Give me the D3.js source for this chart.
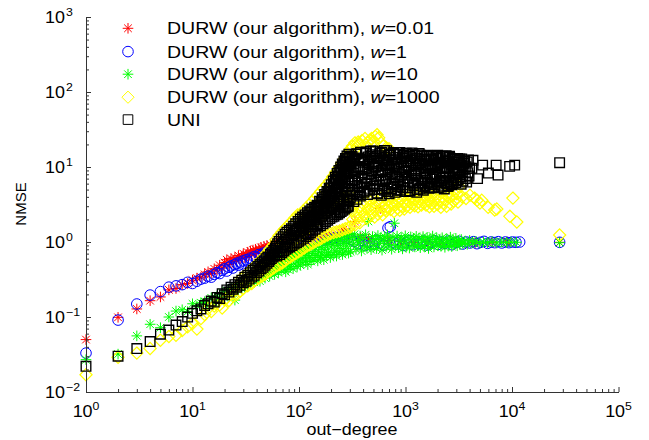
<!DOCTYPE html>
<html>
<head>
<meta charset="utf-8">
<script src="https://cdn.jsdelivr.net/npm/d3@7"></script>
<style>
  body { margin: 0; background: #fff; }
  svg { display: block; }
  text { font-family: "Liberation Sans", Arial, Helvetica, sans-serif; fill: #000; }
</style>
</head>
<body>
<div id="chart"></div>
<script>
// ---- data: [out-degree, NMSE] ----
const redPts = [
  [1,.050],[2,.099],[3,.128],[4,.165],[5,.185],[6,.23],[7,.24],[8,.27],[9,.28],[10,.31],[11,.33],[12,.34],
  [13,.37],[14,.40],[15,.38],[16,.44],[17,.42],[18,.49],[19,.45],[20,.53],[21,.58],[22,.50],[23,.60],[24,.55],
  [25,.62],[26,.57],[27,.66],[28,.60],[29,.64],[30,.70],[31,.62],[32,.68],[33,.73],[34,.66],[35,.76],[36,.70],
  [37,.78],[38,.71],[39,.80],[40,.74],[42,.82],[43,.76],[44,.85],[46,.79],[47,.87],[49,.82],[50,.90],[52,.84],
  [54,.92],[56,.88],[58,.95],[60,.90],[63,.98],[66,.93],[70,1.0],[74,.96],
  [80,1.02],[90,1.08],[100,1.05],[110,1.12],[125,1.1],[140,1.18],[160,1.15],[180,1.24],[203,1.24],[230,1.2],
  [260,1.45],[270,1.37],[300,1.3],[335,1.87],[380,1.15],[450,1.1],[580,2.8],[700,1.05],[900,1.02],
  [1200,.98],[1600,1.0],[2200,.97],[3000,1.0],[4500,.98],[6500,.99],[9000,1.0],[28000,.99]
];

const bluePts = [
  [1,.033],[2,.091],[3,.149],[4,.196],[5,.218],[6,.25],[7,.26],[8,.27],[9,.29],[10,.28],[11,.30],[12,.32],
  [13,.33],[14,.35],[15,.34],[16,.37],[17,.39],[18,.38],[19,.42],[20,.44],[21,.41],[22,.46],[23,.48],[24,.45],
  [25,.50],[26,.52],[27,.49],[28,.54],[29,.51],[30,.56],[32,.58],[33,.55],[35,.61],[36,.59],[38,.64],[40,.62],
  [42,.68],[44,.66],[46,.71],[48,.69],[50,.74],[53,.72],[56,.78],[59,.76],[62,.81],[66,.79],[70,.84],
  [75,.86],[82,.9],[90,.88],[98,.95],[106,.92],[115,1.0],[124,.97],[135,1.05],[145,1.02],[158,1.1],[170,1.06],
  [185,1.12],[200,1.08],[220,1.15],[240,1.1],[262,1.17],[285,1.12],[310,1.08],
  [330,1.02],[360,.95],[390,1.05],[420,.9],[455,1.0],[490,.93],[530,1.06],[570,.97],[620,.91],[685,1.54],
  [720,1.6],[760,1.0],[820,.94],[880,1.04],[950,.9],[1020,.98],[1100,1.05],[1180,.92],[1270,1.0],[1370,.95],
  [1480,1.03],[1600,.91],[1730,.99],[1870,1.04],[2020,.93],[2180,1.0],[2350,.96],[2540,1.03],[2740,.92],
  [2960,.99],[3200,1.02],[3450,.94],[3720,1.0],[4020,.97],[4340,1.01],[4690,.95],[5060,.99],[5460,1.02],
  [5900,.96],[6370,1.0],[6880,.98],[7430,1.01],[8020,.97],[8660,1.0],[9350,.98],[10100,1.0],[10900,.99],
  [11800,1.0],[28000,.99]
];

const greenPts = [
  [1,.027],[2,.032],[3,.056],[4,.080],[5,.072],[6,.10],[7,.12],[8,.125],[9,.118],[10,.15],[11,.14],[12,.155],
  [13,.16],[14,.14],[15,.18],[16,.155],[17,.19],[18,.165],[19,.21],[20,.18],[21,.225],[22,.195],[23,.24],
  [24,.21],[25,.168],[26,.25],[27,.225],[28,.28],[29,.24],[30,.3],[31,.255],[32,.32],[33,.27],[34,.34],
  [35,.28],[36,.31],[37,.36],[38,.29],[39,.38],[40,.32],[41,.36],[42,.41],[43,.3],[44,.43],[45,.35],[46,.4],
  [47,.45],[48,.33],[49,.47],[50,.38],[51,.43],[52,.5],[53,.35],[54,.46],[55,.52],[56,.4],[57,.48],[58,.54],
  [59,.37],[60,.5],[62,.44],[63,.57],[64,.39],[66,.52],[67,.6],[68,.42],[70,.55],[71,.62],[72,.45],[74,.58],
  [75,.4],[76,.64],[78,.5],[79,.43],[80,.61],[82,.66],[83,.47],[85,.56],[86,.69],[88,.44],[89,.62],[91,.72],
  [92,.51],[94,.65],[96,.47],[97,.74],[99,.58],[101,.68],[103,.49],[105,.77],[107,.6],[109,.53],[111,.72],
  [113,.8],[115,.56],[117,.66],[119,.83],[121,.5],[123,.75],[126,.62],[128,.86],[130,.55],[133,.7],[136,.9],
  [138,.58],[141,.79],[144,.66],[147,.93],[150,.56],[153,.74],[156,.96],[159,.62],[162,.85],[165,.69],
  [168,1.0],[171,.58],[175,.8],[178,1.03],[181,.66],[185,.92],[189,.72],[193,1.06],[197,.62],[201,.86],
  [205,1.1],[209,.68],[213,.96],[217,.76],[221,1.12],[225,.65],[229,.9],[234,1.16],[238,.72],[242,1.02],
  [247,.82],[252,1.2],[256,.68],[261,.95],[266,1.22],[271,.76],[276,1.08],[281,.88],[287,1.26],[292,.71],
  [297,1.0],[300,1.3],
  [305,.74],[314,1.15],[324,.92],[333,1.27],[343,.8],[354,1.05],[364,.97],[375,1.2],[386,.76],[398,1.1],
  [410,.88],[422,1.25],[435,.83],[448,1.88],
  [461,1.0],[475,.79],[490,1.18],[504,.9],[519,1.08],[535,.82],[551,1.22],[568,.95],[585,1.12],[602,.78],
  [620,1.02],[639,1.17],[658,.86],[678,1.24],[698,.93],[719,1.06],[741,.8],
  [763,1.15],[786,1.78],[809,.9],[834,1.2],[859,.84],[884,1.03],[911,1.14],[938,.81],[966,.97],[995,1.21],
  [1025,.88],[1056,1.08],[1088,.83],[1120,1.17],[1154,.94],[1188,1.1],[1224,.86],[1261,1.19],
  [1298,.9],[1337,1.12],[1377,.84],[1419,1.04],[1461,1.18],[1505,.87],[1550,.98],[1597,1.15],[1645,.82],
  [1694,1.08],[1745,.93],[1797,1.2],[1851,.86],[1907,1.01],[1964,1.13],[2023,.89],[2083,1.06],
  [2146,.88],[2210,1.14],[2276,.95],[2345,.85],[2415,1.1],[2487,1.0],[2562,.9],[2639,1.16],[2718,.87],
  [2800,1.05],[2884,.94],[2970,1.12],[3059,.89],[3151,1.02],[3245,.92],[3343,1.08],[3443,.96],
  [3600,1.0],[3800,.93],[4000,1.05],[4300,.97],[4600,1.02],[5000,.96],[5400,1.0],[5900,.98],[6500,1.01],
  [7200,.97],[8000,1.0],[8900,.98],[9800,1.0],[11000,.99],[28000,.98]
];

const yellowPts = [
  [1,.017],[2,.029],[3,.033],[4,.038],[5,.049],[6,.055],[7,.057],[8,.066],[9,.074],[10,.082],
  [11,.069],[12,.095],[13,.108],[14,.13],[15,.118],[16,.14],[17,.155],[18,.145],[19,.132],[20,.17],
  [21,.18],[22,.165],[23,.2],[24,.19],[25,.23],[26,.2],[27,.26],[28,.22],[29,.33],[30,.24],
  [31,.28],[32,.37],[33,.26],[34,.31],[35,.42],[36,.28],[37,.35],[38,.47],[39,.31],[40,.38],
  [41,.52],[42,.33],[43,.42],[44,.58],[45,.35],[46,.45],[47,.64],[48,.37],[49,.49],[50,.72],
  [51,.4],[52,.53],[53,.8],[54,.42],[56,.57],[57,.9],[58,.45],[60,.62],[61,1.08],[62,.48],
  [64,.67],[65,1.22],[66,.5],[68,.72],[69,1.35],[70,.53],[72,.78],[73,1.48],[74,.56],[76,.84],
  [77,1.6],[78,.6],[80,.9],[82,1.75],[83,.63],[85,.97],[87,1.92],[88,.67],[90,1.05],[92,2.1],
  [93,.7],[95,1.12],[97,2.3],[99,.74],[101,1.2],[103,2.35],[105,.78],[107,1.3],[110,2.6],[112,.83],
  [114,1.4],[117,2.85],[119,.88],[121,1.5],[124,3.1],[126,.92],[129,1.6],[132,3.4],[135,.97],[138,1.75],
  [141,3.8],[144,1.02],[147,1.9],[150,4.2],[153,1.07],[157,2.05],[160,4.7],[163,1.12],[167,2.2],[170,5.2],
  [174,1.18],[178,2.4],[182,5.8],[186,1.24],[190,2.6],[194,6.5],[198,1.3],[203,2.8],[207,7.4],[212,1.34],
  [216,3.0],[221,8.5],[226,1.37],[231,3.3],[236,9.8],[241,1.4],[246,3.5],[251,11.2],[256,1.45],[262,3.8],
  [267,12.8],[272,1.5],[278,4.0],[284,14.8],[290,1.55],[296,4.3],[300,16.8],
  [305,1.6],[313,2.6],[320,2.0],[328,3.0],[337,1.7],[345,2.4],[354,2.1],[363,2.9],[372,1.8],[381,2.7],
  [391,2.2],[400,3.2],[410,2.3],[421,3.4],[431,2.05],[442,2.8],[453,3.6],[465,2.2],[476,3.1],[488,2.5],
  [500,3.8],[513,2.15],[526,2.9],[539,3.5],[552,2.35],[566,3.2],[580,2.6],[595,3.9],[610,2.3],[625,3.0],
  [640,2.7],[656,2.6],[673,3.6],[690,2.9],[707,4.1],[725,2.7],[743,3.3],[761,3.9],[780,2.55],[800,3.1],
  [820,4.2],[840,2.8],[861,3.5],[883,2.65],[905,3.8],[928,3.0],[951,4.0],[975,2.75],[999,3.4],
  [1024,3.0],[1050,4.3],[1076,3.5],[1103,2.9],[1130,4.0],[1159,3.2],[1188,4.5],[1218,3.05],[1248,3.7],
  [1279,4.2],[1311,2.95],[1344,3.4],[1378,4.4],[1412,3.1],[1447,3.9],[1484,3.3],[1521,4.1],
  [1559,3.1],[1598,4.6],[1638,3.5],[1679,2.95],[1721,4.2],[1764,3.3],[1808,4.8],[1853,3.0],[1899,3.8],
  [1947,4.4],[1995,3.15],[2045,3.6],[2096,4.7],[2149,2.9],[2202,4.0],
  [2257,3.3],[2314,4.9],[2372,3.6],[2431,3.0],[2492,4.5],[2554,3.9],[2618,5.3],[2683,3.2],[2750,4.1],
  [2819,3.5],[2890,5.0],[2962,3.7],[3036,4.4],[3112,3.4],[3190,5.5],
  [305,17.5],[318,19],[335,21],[350,18.5],[360,21.5],[372,20],[390,22.5],[417,24],[440,21],[465,23],
  [480,24],[500,22],[520,25.5],[540,27],[560,24.5],[590,21],[620,19],[660,18],[700,17.5],
  [3400,4.0],[3700,3.8],[4030,4.2],[4450,3.85],[4700,3.6],[5000,3.3],[5200,3.6],[5970,2.9],[6880,2.67],
  [7200,2.75],[9560,2.2],[10200,3.85],[11100,1.85],[28000,1.24]
];

const uniPts = [
  [1,.022],[2,.030],[3,.038],[4,.047],[5,.059],[6,.067],[7,.078],[8,.087],[9,.100],[10,.112],
  [11,.121],[12,.128],[13,.142],[14,.150],[15,.163],[16,.158],[17,.182],[18,.176],[19,.205],[20,.198],
  [21,.23],[22,.215],[23,.25],[24,.235],[25,.27],[26,.25],[27,.29],[28,.265],[29,.31],[30,.285],
  [31,.34],[32,.30],[33,.36],[34,.32],[35,.39],[36,.34],[37,.42],[38,.36],[39,.44],[40,.39],
  [41,.47],[42,.41],[43,.50],[44,.44],[45,.53],[46,.46],[47,.56],[48,.49],[49,.60],[50,.52],
  [51,.63],[52,.55],[53,.58],[54,.68],[55,.60],[56,.72],[57,.63],[58,.77],[59,.66],[60,.82],
  [61,.88],[62,.65],[63,.95],[64,.74],[65,1.02],[66,.68],[67,.84],[68,1.1],[69,.72],[70,.93],
  [71,1.18],[72,.76],[73,1.0],[74,1.27],[75,.8],[76,1.08],[77,1.35],[78,.83],[80,1.15],[81,1.42],
  [82,.86],[84,1.22],[85,1.5],[86,.9],[88,1.3],[89,1.62],[90,.94],[92,1.38],[93,1.75],[95,.98],
  [96,1.46],[98,1.88],[99,1.02],[101,1.55],[103,2.02],[104,1.06],[106,1.65],[108,2.15],[110,1.12],[112,1.75],
  [114,2.3],[116,1.18],[118,1.85],[120,2.45],[122,1.25],[124,1.98],[126,2.6],[128,1.32],[130,2.1],[132,2.75],
  [134,1.4],[137,2.22],[140,2.9],[142,1.48],[145,2.35],[148,3.1],[150,1.58],
  [153,2.5],[156,3.5],[159,1.65],[162,2.8],[165,3.9],[168,1.75],[171,3.0],[174,4.3],[177,1.85],[180,3.3],
  [183,4.7],[186,1.95],[189,3.6],[192,5.2],[195,2.05],[198,4.0],[200,3.0],[201,5.8],[204,2.15],[207,4.4],
  [210,6.5],[213,2.2],[216,4.9],[218,3.3],[219,7.3],[222,2.3],[225,5.4],[228,8.2],[231,2.35],[232,3.5],
  [234,6.0],[237,9.0],[240,2.45],[243,6.6],[245,4.0],[246,10.0],[249,2.55],[250,5.2],[252,7.3],[255,11.0],
  [258,2.65],[261,8.0],[262,3.6],[264,12.0],[267,2.75],[268,6.0],[270,8.8],[273,13.0],[276,2.85],[279,9.6],
  [281,4.2],[282,14.0],[285,2.95],[286,7.0],[288,10.5],[291,3.0],[294,14.8],[297,6.2],[300,11.5],
  [100,1.4],[102,1.8],[105,1.2],[107,1.55],[109,1.9],[111,1.35],[113,2.1],[115,1.6],[117,1.3],[119,2.0],
  [121,1.7],[123,2.3],[125,1.45],[127,1.9],[129,2.5],[131,1.6],[133,2.2],[136,1.75],[138,2.6],[141,2.0],
  [144,2.8],[147,1.7],[149,2.45],[152,3.0],[155,2.0],[158,2.6],[161,3.4],[164,2.2],[167,2.9],[170,3.7],
  [173,2.4],[176,3.2],[179,4.1],[182,2.6],[185,3.5],[188,4.6],[191,2.8],[194,3.9],[197,5.2],[199,2.5],
  [202,4.2],[206,3.1],[209,5.3],[212,3.6],[215,6.0],[217,2.7],[221,4.6],[224,6.8],[227,3.2],[230,5.3],
  [233,7.6],[236,3.8],[239,5.8],[242,8.5],[244,3.0],[248,7.0],[251,9.3],[254,4.5],[257,6.4],[260,10.5],
  [263,3.2],[266,7.5],[269,11.5],[272,5.0],[275,8.5],[278,12.5],[280,3.5],[284,9.0],[287,13.0],[290,5.5],
  [293,10.0],[296,3.6],[299,13.5],
  [303,3.87],[307,10.9],[311,6.1],[315,13.9],[319,4.9],[323,8.2],[327,3.46],[332,12.2],[336,6.8],[340,9.7],
  [345,4.25],[349,15.0],[354,5.6],[358,7.6],[363,13.2],[368,4.5],[372,9.1],
  [377,4.1],[382,12.6],[387,7.5],[392,6.2],[397,11.6],[402,9.2],[408,4.75],[413,12.2],[418,7.2],[424,15.2],
  [429,5.9],[435,9.5],[440,4.3],[446,13.6],[452,8.0],[458,10.9],[464,5.2],[470,16.3],[476,6.6],[482,8.8],
  [488,14.6],[495,5.5],[501,10.3],[508,13.1],[514,5.0],[521,9.9],[528,16.0],[535,6.9],[542,4.5],[549,11.2],
  [556,8.4],[563,14.1],[570,5.7],[578,12.9],[585,7.8],[593,4.2],[601,15.6],[608,9.0],[616,6.4],[624,11.9],
  [633,4.9],[641,13.4],[649,7.0],[658,10.6],[666,16.5],[675,5.3],[684,8.6],[693,12.3],[702,4.4],[711,9.7],
  [720,14.9],[730,6.0],
  [739,5.1],[749,12.4],[759,8.3],[769,15.2],[779,6.0],[789,10.1],[799,4.6],[810,13.5],[820,7.4],[831,11.0],
  [842,5.5],[853,14.6],[864,6.8],[875,9.2],[887,15.6],[898,4.9],[910,11.7],[922,7.9],[934,13.0],[946,5.8],
  [959,9.8],[971,14.2],[984,6.4],[997,4.7],[1010,12.0],[1023,8.7],[1036,15.0],[1050,5.3],[1064,10.5],[1077,7.1],
  [1091,13.8],[1106,4.8],[1120,11.4],[1135,9.0],[1150,15.4],[1165,6.2],[1180,12.8],[1195,5.6],[1211,8.1],[1227,14.4],
  [1243,7.6],[1259,10.8],[1275,4.6],[1292,13.2],[1309,6.6],[1326,9.5],[1343,15.1],[1361,5.2],[1378,11.9],[1396,8.5],
  [1415,14.0],[1433,6.1],[1452,10.2],[1471,4.9],[1490,12.6],[1509,7.3],
  [1529,5.6],[1549,12.1],[1569,8.0],[1590,14.3],[1610,6.3],[1631,10.4],[1653,5.2],[1674,13.2],[1696,7.4],[1718,11.1],
  [1741,5.9],[1763,14.0],[1786,6.9],[1810,9.3],[1833,12.7],[1857,5.4],[1881,10.9],[1906,7.8],[1931,13.6],[1956,6.1],
  [1981,9.7],[2007,14.4],[2033,5.3],[2060,11.6],[2087,8.4],[2114,12.9],[2142,6.6],[2170,10.0],[2198,5.7],[2226,13.9],
  [2256,7.1],[2285,11.3],[2315,5.1],[2345,12.4],[2376,8.8],[2407,14.1],[2438,6.0],[2470,9.9],[2502,5.5],[2535,12.0],
  [2568,7.6],[2601,13.4],[2635,6.4],[2670,10.6],[2705,5.8],[2740,11.8],[2776,8.2],[2812,13.0],[2849,6.7],[2886,9.4],
  [2924,12.6],
  [2962,6.2],[3000,11.5],[3040,8.1],[3080,13.0],[3120,6.8],[3160,9.9],[3200,12.3],[3245,7.3],[3290,10.7],[3330,5.9],
  [3375,12.8],[3420,8.6],[3460,6.5],[3510,11.2],[3555,9.3],[3600,12.0],[3650,7.0],[3700,10.1],[3750,6.3],[3800,11.7],
  [3850,8.4],[3900,12.4],[3950,7.6],[4000,9.6],
  [310,8.9],[318,4.4],[326,12.8],[334,6.5],[342,14.8],[351,3.7],[360,10.2],[369,5.3],[378,15.8],[387,7.1],
  [397,12.9],[407,4.6],[417,9.4],[427,15.9],[438,6.0],[449,11.4],[460,4.9],[472,14.0],[483,8.2],[496,16.4],
  [508,5.6],[521,10.0],[534,13.2],[547,4.4],[561,7.6],[575,15.3],[589,9.1],[604,5.1],[619,12.4],[634,16.6],
  [650,6.8],[666,11.0],[683,4.7],[700,14.3],[718,8.0],[736,10.4],[754,5.8],[773,15.6],[792,7.2],[812,12.8],
  [832,4.9],[853,9.6],[874,14.8],[896,6.4],[919,11.6],[942,5.3],[965,13.6],[989,8.6],[1014,15.3],[1039,6.9],
  [1065,10.1],[1092,4.8],[1119,12.3],[1147,7.8],[1176,14.7],[1205,5.9],[1235,9.0],[1266,13.0],[1298,5.0],[1330,11.1],
  [1364,14.5],[1398,7.0],[1433,10.7],[1468,5.5],[1505,12.6],[1543,8.9],[1581,13.9],[1621,6.1],[1661,9.6],[1703,5.3],
  [1745,12.3],[1789,7.5],[1834,14.2],[1880,5.8],[1927,10.3],[1975,8.0],[2024,13.1],[2075,6.4],[2127,11.4],[2180,5.4],
  [2234,13.6],[2290,8.6],[2347,6.2],[2406,12.0],[2466,9.7],[2528,5.6],[2591,13.9],[2656,7.2],[2722,10.9],[2790,6.0],
  [2860,12.6],[2931,8.3],[3005,6.6],[3080,11.6],[3157,9.0],[3236,12.8],[3317,7.4],[3400,10.4],
  [4200,9.6],[4300,12.3],[4750,7.0],[5300,10.6],[6000,8.3],[7100,10.6],[7400,7.8],[9500,10.2],[10600,10.6],[28000,11.4]
];

const seriesLabels = ["DURW (our algorithm), ", "DURW (our algorithm), ", "DURW (our algorithm), ", "DURW (our algorithm), ", "UNI"];
const seriesW = ["0.01", "1", "10", "1000", null];
const xTicks = [1, 10, 100, 1000, 10000, 100000];
const xTickExp = ["0", "1", "2", "3", "4", "5"];
const yTicks = [0.01, 0.1, 1, 10, 100, 1000];
const yTickExp = ["\u22122", "\u22121", "0", "1", "2", "3"];

// ---- layout ----
const W = 649, H = 440;
const SX = 1.12;   // the figure's text is a bit wide

const x = d3.scaleLog().domain([1, 1e5]).range([86, 618.5]);
const y = d3.scaleLog().domain([0.01, 1000]).range([392, 17]);

const svg = d3.select("#chart").append("svg")
  .attr("width", W)
  .attr("height", H);

// marker shapes
function markerPath(type) {
  if (type === "star") {
    let r = 5.3, d = 3.8;
    return `M${-r},0H${r}M0,${-r}V${r}M${-d},${-d}L${d},${d}M${-d},${d}L${d},${-d}`;
  }
  if (type === "diamond") {
    let r = 6.1;
    return `M0,${-r}L${r},0L0,${r}L${-r},0Z`;
  }
  if (type === "square") {
    let r = 4.8;
    return `M${-r},${-r}H${r}V${r}H${-r}Z`;
  }
  // circle
  let r = 5.3;
  return `M${r},0A${r},${r} 0 1,1 ${-r},0A${r},${r} 0 1,1 ${r},0Z`;
}

const series = [
  { pts: redPts, color: "#ff0000", type: "star", sw: 1 },
  { pts: bluePts, color: "#0000ff", type: "circle", sw: 1 },
  { pts: greenPts, color: "#00ff00", type: "star", sw: 1 },
  { pts: yellowPts, color: "#ffff00", type: "diamond", sw: 1.2 },
  { pts: uniPts, color: "#000000", type: "square", sw: 1.35 }
];

// ---- points (plotted in legend order, UNI on top) ----
const plot = svg.append("g");
series.forEach(s => {
  plot.append("g")
    .selectAll("path")
    .data(s.pts)
    .enter()
    .append("path")
    .attr("d", markerPath(s.type))
    .attr("transform", d => `translate(${x(d[0])},${y(d[1])})`)
    .attr("fill", "none")
    .attr("stroke", s.color)
    .attr("stroke-width", s.sw);
});

// ---- axes ----
let minorX = [], minorY = [];
for (let e = 0; e < 5; e++) for (let k = 2; k < 10; k++) minorX.push(k * Math.pow(10, e));
for (let e = -2; e < 3; e++) for (let k = 2; k < 10; k++) minorY.push(k * Math.pow(10, e));

const axisColor = "#333";

const gx = svg.append("g").attr("transform", "translate(0,392)");
gx.call(d3.axisBottom(x).tickValues(xTicks).tickSize(-5).tickSizeOuter(0).tickFormat(""));
gx.append("g")
  .call(d3.axisBottom(x).tickValues(minorX).tickSize(-3).tickSizeOuter(0).tickFormat(""))
  .select(".domain").remove();

const gy = svg.append("g").attr("transform", "translate(86,0)");
gy.call(d3.axisLeft(y).tickValues(yTicks).tickSize(-5).tickSizeOuter(0).tickFormat(""));
gy.append("g")
  .call(d3.axisLeft(y).tickValues(minorY).tickSize(-3).tickSizeOuter(0).tickFormat(""))
  .select(".domain").remove();

svg.selectAll(".domain").attr("stroke", axisColor);
svg.selectAll(".tick line").attr("stroke", axisColor);

// tick labels with superscripts
xTicks.forEach((v, i) => {
  let t = svg.append("text")
    .attr("transform", `translate(${x(v)},417) scale(${SX},1)`)
    .attr("text-anchor", "middle")
    .style("font-size", "16px");
  t.append("tspan").text("10");
  t.append("tspan").attr("dy", -7).style("font-size", "11px").text(xTickExp[i]);
});

yTicks.forEach((v, i) => {
  let t = svg.append("text")
    .attr("transform", `translate(45,${y(v) + 5.5}) scale(${SX},1)`)
    .attr("text-anchor", "start")
    .style("font-size", "16px");
  t.append("tspan").text("10");
  t.append("tspan").attr("dx", 1).attr("dy", -7).style("font-size", "11px").text(yTickExp[i]);
});

// axis titles
svg.append("text")
  .attr("transform", `translate(352,435) scale(${SX},1)`)
  .attr("text-anchor", "middle")
  .style("font-size", "16px")
  .text("out\u2212degree");

svg.append("text")
  .attr("transform", "translate(26,204) rotate(-90)")
  .attr("text-anchor", "middle")
  .style("font-size", "15px")
  .text("NMSE");

// ---- legend ----
const legendY = [28.3, 51.6, 74.2, 97.2, 119.6];
const legend = svg.append("g");
series.forEach((s, i) => {
  legend.append("path")
    .attr("d", markerPath(s.type))
    .attr("transform", `translate(128,${legendY[i]})`)
    .attr("fill", "none")
    .attr("stroke", s.color)
    .attr("stroke-width", 1);

  let t = legend.append("text")
    .attr("transform", `translate(167,${legendY[i] + 6}) scale(1.15,1)`)
    .style("font-size", "17px");
  t.append("tspan").text(seriesLabels[i]);
  if (seriesW[i] !== null) {
    t.append("tspan").style("font-style", "italic").text("w");
    t.append("tspan").text("=" + seriesW[i]);
  }
});
</script>
</body>
</html>
